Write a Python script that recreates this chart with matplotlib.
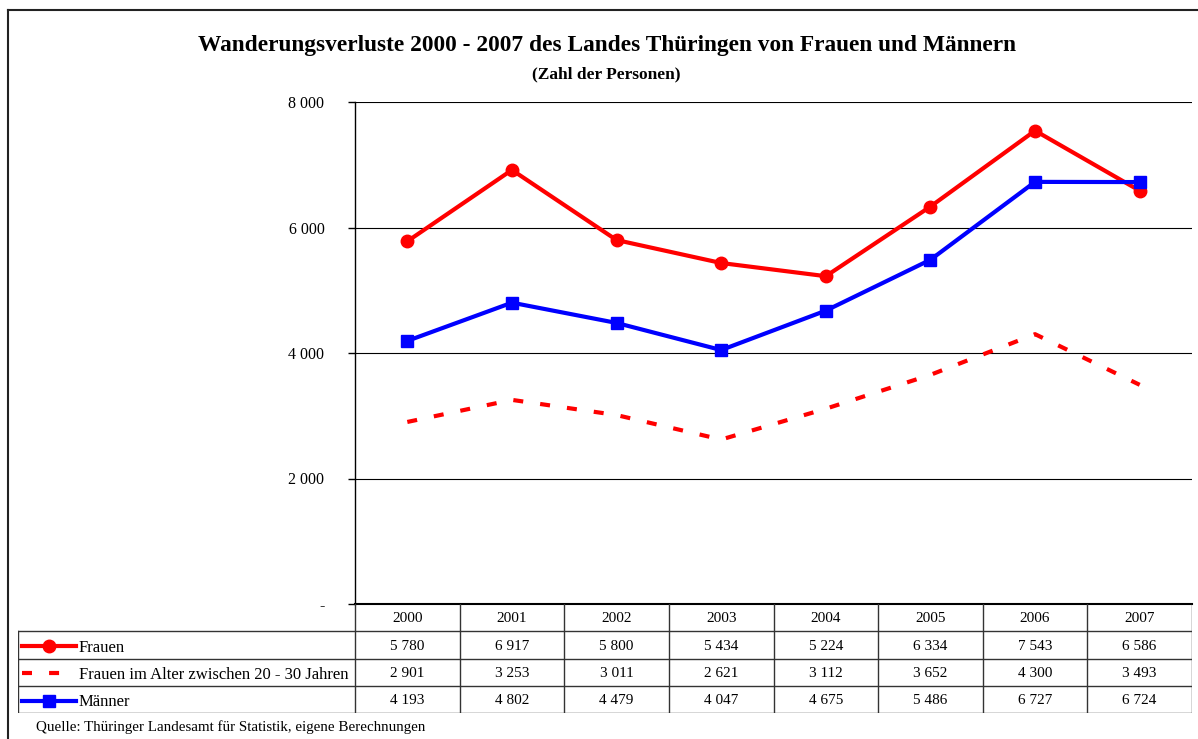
import matplotlib
matplotlib.use("Agg")
import matplotlib.pyplot as plt
from matplotlib.lines import Line2D

plt.rcParams["font.family"] = ["Liberation Serif", "DejaVu Serif"]

YEARS = ["2000", "2001", "2002", "2003", "2004", "2005", "2006", "2007"]
FRAUEN = [5780, 6917, 5800, 5434, 5224, 6334, 7543, 6586]
FRAUEN_20_30 = [2901, 3253, 3011, 2621, 3112, 3652, 4300, 3493]
MAENNER = [4193, 4802, 4479, 4047, 4675, 5486, 6727, 6724]
Y_TICKS = [0, 2000, 4000, 6000, 8000]
Y_TICK_LABELS = ["-", "2 000", "4 000", "6 000", "8 000"]

TITLE = "Wanderungsverluste 2000 - 2007 des Landes Thüringen von Frauen und Männern"
SUBTITLE = "(Zahl der Personen)"
SOURCE = "Quelle: Thüringer Landesamt für Statistik, eigene Berechnungen"

SERIES = [
    ("Frauen", FRAUEN, dict(color="#ff0000", lw=3, marker="o", ms=9)),
    ("Frauen im Alter zwischen 20 - 30 Jahren", FRAUEN_20_30,
     dict(color="#ff0000", lw=3, ls=(0, (2.4, 4.1)), dash_capstyle="butt")),
    ("Männer", MAENNER, dict(color="#0000ff", lw=3, marker="s", ms=8.5)),
]

W, H = 1198, 739
fig = plt.figure(figsize=(W / 100, H / 100), dpi=100)

# pixel layout
PL, PR, PT, PB = 355, 1192, 102, 604
TL, TB = 18, 713
col_w = (PR - PL) / len(YEARS)


def frac(x0, y0, x1, y1):
    return [x0 / W, 1 - y1 / H, (x1 - x0) / W, (y1 - y0) / H]


# outer frame
fig.add_artist(Line2D([8 / W, 1], [1 - 10 / H] * 2, color="#222222", lw=1.5))
fig.add_artist(Line2D([8 / W] * 2, [0, 1 - 10 / H], color="#222222", lw=1.5))

ax = fig.add_axes(frac(PL, PT, PR, PB))
x = list(range(len(YEARS)))
for name, vals, style in SERIES:
    ax.plot(x, vals, **style)

ax.set_xlim(-0.5, len(YEARS) - 0.5)
ax.set_ylim(0, 8000)
ax.set_yticks(Y_TICKS)
ax.set_yticklabels(Y_TICK_LABELS, fontsize=11.5)
ax.tick_params(axis="y", length=5, width=1, pad=17, color="black")
ax.set_xticks([])
for y in Y_TICKS[1:]:
    ax.axhline(y, color="black", lw=0.8, zorder=0)
for s in ["top", "right"]:
    ax.spines[s].set_visible(False)
ax.spines["left"].set_linewidth(1)
ax.spines["bottom"].set_linewidth(1.5)

fig.text(607 / W, 1 - 45 / H, TITLE, ha="center", va="center",
         fontsize=16.8, fontweight="bold")
fig.text(606 / W, 1 - 74 / H, SUBTITLE, ha="center", va="center",
         fontsize=12.5, fontweight="bold")

# data table
tab = fig.add_axes(frac(TL, PB, PR, TB))
label_w = (PL - TL) / col_w
x_left = -0.5 - label_w
tab.set_xlim(x_left, len(YEARS) - 0.5)
tab.set_ylim(4, 0)
tab.axis("off")

lc = "#333333"
for i in range(len(YEARS) + 1):
    tab.plot([i - 0.5] * 2, [0, 4], color=lc, lw=1)
tab.plot([x_left] * 2, [1, 4], color=lc, lw=1)
for r in range(1, 5):
    tab.plot([x_left, len(YEARS) - 0.5], [r, r], color=lc, lw=1)

for i, yr in enumerate(YEARS):
    tab.text(i, 0.55, yr, ha="center", va="center", fontsize=11)

px = 1 / col_w
for r, (name, vals, style) in enumerate(SERIES, start=1):
    yc = r + 0.55
    for i, v in enumerate(vals):
        tab.text(i, yc, f"{v:,}".replace(",", " "), ha="center", va="center", fontsize=11)
    xs = [x_left + 4 * px, x_left + 31 * px, x_left + 58 * px]
    tab.plot(xs, [yc] * 3, markevery=[1], **style)
    tab.text(x_left + 61 * px, yc + 0.05, name, ha="left", va="center", fontsize=12)

fig.text(36 / W, 1 - 727 / H, SOURCE, ha="left", va="center", fontsize=10.8)

fig.savefig("out.png", dpi=100)
